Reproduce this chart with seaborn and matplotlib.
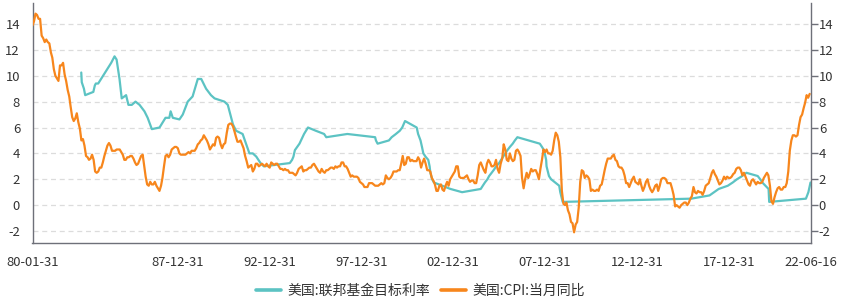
import numpy as np
import pandas as pd
import matplotlib
matplotlib.use("Agg")
import matplotlib.pyplot as plt
import matplotlib.dates as mdates
import seaborn as sns
from matplotlib.lines import Line2D

# ---------------- data ----------------
fed_dates = [
    "1982-09-27", "1982-10-07", "1982-11-19", "1982-12-14", "1983-05-25", "1983-06-24",
    "1983-07-14", "1983-08-30", "1984-05-15", "1984-07-20", "1984-08-30", "1984-10-27",
    "1984-12-10", "1985-03-07", "1985-04-22", "1985-06-28", "1985-09-10", "1985-11-30",
    "1986-03-07", "1986-05-10", "1986-08-01", "1987-01-01", "1987-04-30", "1987-07-15",
    "1987-08-10", "1987-09-22", "1988-02-01", "1988-04-07", "1988-07-15", "1988-10-20",
    "1989-01-31", "1989-04-10", "1989-07-15", "1989-10-20", "1989-12-31", "1990-07-15",
    "1990-09-20", "1990-12-31", "1991-03-03", "1991-07-12", "1991-11-24", "1992-01-30",
    "1992-04-09", "1992-07-02", "1992-09-04", "1994-02-04", "1994-03-22", "1994-04-18",
    "1994-05-17", "1994-08-16", "1994-11-15", "1995-02-01", "1995-07-06", "1995-12-19",
    "1996-01-31", "1997-03-25", "1998-09-29", "1998-10-15", "1998-11-17", "1999-06-30",
    "1999-08-24", "1999-11-16", "2000-02-02", "2000-03-21", "2000-05-16", "2001-01-03",
    "2001-01-31", "2001-03-20", "2001-04-18", "2001-05-15", "2001-06-27", "2001-08-21",
    "2001-09-17", "2001-10-02", "2001-11-06", "2001-12-11", "2002-11-06", "2003-06-25",
    "2004-06-30", "2004-08-10", "2004-09-21", "2004-11-10", "2004-12-14", "2005-02-02",
    "2005-03-22", "2005-05-03", "2005-06-30", "2005-08-09", "2005-09-20", "2005-11-01",
    "2005-12-13", "2006-01-31", "2006-03-28", "2006-05-10", "2006-06-29", "2007-09-18",
    "2007-10-31", "2007-12-11", "2008-01-22", "2008-01-30", "2008-03-18", "2008-04-30",
    "2008-10-08", "2008-10-29", "2008-12-16", "2015-12-17", "2016-12-15", "2017-03-16",
    "2017-06-15", "2017-12-14", "2018-03-22", "2018-06-14", "2018-09-27", "2018-12-20",
    "2019-08-01", "2019-09-19", "2019-10-31", "2020-03-04", "2020-03-16", "2022-03-17",
    "2022-05-05", "2022-06-16",
]
fed_values = [
    10.25, 9.5, 9.0, 8.5, 8.75, 9.25,
    9.4, 9.4, 11.0, 11.5, 11.25, 9.75,
    8.25, 8.5, 7.75, 7.75, 8.0, 7.75,
    7.25, 6.75, 5.875, 6.0, 6.75, 6.75,
    7.25, 6.75, 6.625, 7.0, 8.0, 8.4,
    9.75, 9.75, 9.0, 8.5, 8.25, 8.0,
    7.75, 6.25, 5.75, 5.5, 4.0, 4.0,
    3.75, 3.25, 3.0, 3.25, 3.5, 3.75,
    4.25, 4.75, 5.5, 6.0, 5.75, 5.5,
    5.25, 5.5, 5.25, 5.0, 4.75, 5.0,
    5.25, 5.5, 5.75, 6.0, 6.5, 6.0,
    5.5, 5.0, 4.5, 4.0, 3.75, 3.5,
    3.0, 2.5, 2.0, 1.75, 1.25, 1.0,
    1.25, 1.5, 1.75, 2.0, 2.25, 2.5,
    2.75, 3.0, 3.25, 3.5, 3.75, 4.0,
    4.25, 4.5, 4.75, 5.0, 5.25, 4.75,
    4.5, 4.25, 3.5, 3.0, 2.25, 2.0,
    1.5, 1.0, 0.25, 0.5, 0.75, 1.0,
    1.25, 1.5, 1.75, 2.0, 2.25, 2.5,
    2.25, 2.0, 1.75, 1.25, 0.25, 0.5,
    1.0, 1.75,
]

cpi_start = "1980-01-31"
cpi_values = [
    13.9, 14.2, 14.8, 14.7, 14.4, 14.4, 13.1, 12.9, 12.6, 12.8, 12.6, 12.5,
    11.8, 11.4, 10.5, 10.0, 9.8, 9.6, 10.8, 10.8, 11.0, 10.1, 9.6, 8.9,
    8.4, 7.6, 6.8, 6.5, 6.7, 7.1, 6.4, 5.9, 5.0, 5.1, 4.6, 3.8,
    3.7, 3.5, 3.6, 3.9, 3.5, 2.6, 2.5, 2.6, 2.9, 2.9, 3.3, 3.8,
    4.2, 4.6, 4.8, 4.6, 4.2, 4.2, 4.2, 4.3, 4.3, 4.3, 4.1, 3.9,
    3.5, 3.5, 3.7, 3.7, 3.8, 3.8, 3.6, 3.3, 3.1, 3.2, 3.5, 3.8,
    3.9, 3.1, 2.2, 1.6, 1.5, 1.8, 1.6, 1.6, 1.8, 1.5, 1.3, 1.1,
    1.5, 2.1, 3.0, 3.8, 3.9, 3.7, 3.9, 4.3, 4.4, 4.5, 4.5, 4.4,
    4.0, 3.9, 3.9, 3.9, 3.9, 4.0, 4.1, 4.0, 4.2, 4.2, 4.2, 4.4,
    4.7, 4.8, 5.0, 5.1, 5.4, 5.2, 5.0, 4.7, 4.3, 4.5, 4.7, 4.6,
    5.2, 5.3, 5.2, 4.7, 4.4, 4.7, 4.8, 5.6, 6.2, 6.3, 6.3, 6.1,
    5.7, 5.3, 4.9, 4.9, 5.0, 4.7, 4.4, 3.8, 3.4, 2.9, 3.0, 3.1,
    2.6, 2.8, 3.2, 3.2, 3.0, 3.1, 3.2, 3.1, 3.0, 3.2, 3.0, 2.9,
    3.3, 3.2, 3.1, 3.2, 3.2, 3.0, 2.8, 2.8, 2.7, 2.8, 2.7, 2.7,
    2.5, 2.5, 2.5, 2.4, 2.3, 2.5, 2.8, 2.9, 3.0, 2.6, 2.7, 2.7,
    2.8, 2.9, 2.9, 3.1, 3.2, 3.0, 2.8, 2.6, 2.5, 2.8, 2.6, 2.5,
    2.7, 2.7, 2.8, 2.9, 2.9, 2.8, 3.0, 2.9, 3.0, 3.0, 3.3, 3.3,
    3.0, 3.0, 2.8, 2.5, 2.2, 2.3, 2.2, 2.2, 2.2, 2.1, 1.8, 1.7,
    1.6, 1.4, 1.4, 1.4, 1.7, 1.7, 1.7, 1.6, 1.5, 1.5, 1.5, 1.6,
    1.7, 1.6, 1.7, 2.3, 2.1, 2.0, 2.1, 2.3, 2.6, 2.6, 2.6, 2.7,
    2.7, 3.2, 3.8, 3.1, 3.2, 3.7, 3.7, 3.4, 3.5, 3.4, 3.4, 3.4,
    3.7, 3.5, 2.9, 3.3, 3.6, 3.2, 2.7, 2.7, 2.6, 2.1, 1.9, 1.6,
    1.1, 1.1, 1.5, 1.6, 1.2, 1.1, 1.5, 1.8, 1.5, 2.0, 2.2, 2.4,
    2.6, 3.0, 3.0, 2.2, 2.1, 2.1, 2.1, 2.2, 2.3, 2.0, 1.8, 1.9,
    1.9, 1.7, 1.7, 2.3, 3.1, 3.3, 3.0, 2.7, 2.5, 3.2, 3.5, 3.3,
    3.0, 3.0, 3.1, 3.5, 2.8, 2.5, 3.2, 3.6, 4.7, 4.3, 3.5, 3.4,
    4.0, 3.6, 3.4, 3.5, 4.2, 4.3, 4.1, 3.8, 2.1, 1.3, 2.0, 2.5,
    2.1, 2.4, 2.8, 2.6, 2.7, 2.7, 2.4, 2.0, 2.8, 3.5, 4.3, 4.1,
    4.3, 4.0, 4.0, 3.9, 4.2, 5.0, 5.6, 5.4, 4.9, 3.7, 1.1, 0.1,
    0.0, 0.2, -0.4, -0.7, -1.3, -1.4, -2.1, -1.5, -1.3, -0.2, 1.8, 2.7,
    2.6, 2.1, 2.3, 2.2, 2.0, 1.1, 1.2, 1.1, 1.1, 1.2, 1.1, 1.5,
    1.6, 2.1, 2.7, 3.2, 3.6, 3.6, 3.6, 3.8, 3.9, 3.5, 3.4, 3.0,
    2.9, 2.9, 2.7, 2.3, 1.7, 1.7, 1.4, 1.7, 2.0, 2.2, 1.8, 1.7,
    1.6, 2.0, 1.5, 1.1, 1.4, 1.8, 2.0, 1.5, 1.2, 1.0, 1.2, 1.5,
    1.6, 1.1, 1.5, 2.0, 2.1, 2.1, 2.0, 1.7, 1.7, 1.7, 1.3, 0.8,
    -0.1, 0.0, -0.1, -0.2, 0.0, 0.1, 0.2, 0.2, 0.0, 0.2, 0.5, 0.7,
    1.4, 1.0, 0.9, 1.1, 1.0, 1.0, 0.8, 1.1, 1.5, 1.6, 1.7, 2.1,
    2.5, 2.7, 2.4, 2.2, 1.9, 1.6, 1.7, 1.9, 2.2, 2.0, 2.2, 2.1,
    2.1, 2.2, 2.4, 2.5, 2.8, 2.9, 2.9, 2.7, 2.3, 2.5, 2.2, 1.9,
    1.6, 1.5, 1.9, 2.0, 1.8, 1.6, 1.8, 1.7, 1.7, 1.8, 2.1, 2.3,
    2.5, 2.3, 1.5, 0.3, 0.1, 0.6, 1.0, 1.3, 1.4, 1.2, 1.2, 1.4,
    1.4, 1.7, 2.6, 4.2, 5.0, 5.4, 5.4, 5.3, 5.4, 6.2, 6.8, 7.0,
    7.5, 7.9, 8.5, 8.3, 8.6,
]

fed_label = "美国:联邦基金目标利率"
cpi_label = "美国:CPI:当月同比"
x_tick_dates = ["1980-01-31", "1982-12-31", "1987-12-31", "1992-12-31", "1997-12-31",
                "2002-12-31", "2007-12-31", "2012-12-31", "2017-12-31", "2022-06-16"]
x_tick_labels = ["80-01-31", "", "87-12-31", "92-12-31", "97-12-31",
                 "02-12-31", "07-12-31", "12-12-31", "17-12-31", "22-06-16"]
y_ticks = [-2, 0, 2, 4, 6, 8, 10, 12, 14]

# ---------------- frames ----------------
fed_df = pd.DataFrame({"date": pd.to_datetime(fed_dates), "value": fed_values})
cpi_df = pd.DataFrame({"date": pd.date_range(cpi_start, periods=len(cpi_values), freq="ME"),
                       "value": cpi_values})

# ---------------- style ----------------
sns.set_theme(style="white")
plt.rcParams["font.family"] = ["Noto Sans CJK SC", "DejaVu Sans"]
plt.rcParams["axes.unicode_minus"] = False

TEAL = "#5cc3c3"
ORANGE = "#f7861c"
AXIS = "#6e7079"
TXT = "#333333"

fig = plt.figure(figsize=(8.47, 3.01), dpi=100)
W, H = 847, 301
left_px, right_px, top_px, bot_px = 32.5, 810.5, 3.3, 243.3
ax = fig.add_axes([left_px / W, 1 - bot_px / H, (right_px - left_px) / W, (bot_px - top_px) / H])
ax2 = ax.twinx()

ymin, ymax = -2.95, 15.6
for a in (ax, ax2):
    a.set_ylim(ymin, ymax)
    a.set_yticks(y_ticks)
    a.set_xlim(pd.Timestamp("1980-01-31"), pd.Timestamp("2022-06-16"))

# grid
for v in y_ticks:
    ax.axhline(v, color="#dcdcdc", lw=0.9, ls=(0, (4, 3)), zorder=0)

sns.lineplot(data=fed_df, x="date", y="value", ax=ax, color=TEAL, lw=1.6,
             estimator=None, sort=False, legend=False)
sns.lineplot(data=cpi_df, x="date", y="value", ax=ax2, color=ORANGE, lw=1.6,
             estimator=None, sort=False, legend=False)

ax.set_xlabel("")
ax.set_ylabel("")
ax2.set_xlabel("")
ax2.set_ylabel("")

ax.set_xticks(pd.to_datetime(x_tick_dates))
ax.set_xticklabels(x_tick_labels)

for a in (ax, ax2):
    for s in a.spines.values():
        s.set_visible(False)
ax.spines["left"].set_visible(True)
ax.spines["bottom"].set_visible(True)
ax2.spines["right"].set_visible(True)
for s in (ax.spines["left"], ax.spines["bottom"], ax2.spines["right"]):
    s.set_color(AXIS)
    s.set_linewidth(1.0)

ax.tick_params(axis="x", direction="out", length=5, width=1, color=AXIS,
               labelsize=9.4, labelcolor=TXT, pad=4)
ax.tick_params(axis="y", left=False, labelsize=9.4, labelcolor=TXT, pad=3)
ax2.tick_params(axis="y", right=True, direction="out", length=5, width=1, color=AXIS,
                labelsize=9.4, labelcolor=TXT, pad=1)

# legend
handles = [Line2D([0], [0], color=TEAL, lw=2.6), Line2D([0], [0], color=ORANGE, lw=2.6)]
fig.legend(handles, [fed_label, cpi_label], loc="center", bbox_to_anchor=(0.496, 1 - 291 / H),
           ncol=2, frameon=False, fontsize=10, handlelength=1.8, handletextpad=0.45,
           columnspacing=0.8, labelcolor=TXT)

fig.savefig("out.png", dpi=100)
